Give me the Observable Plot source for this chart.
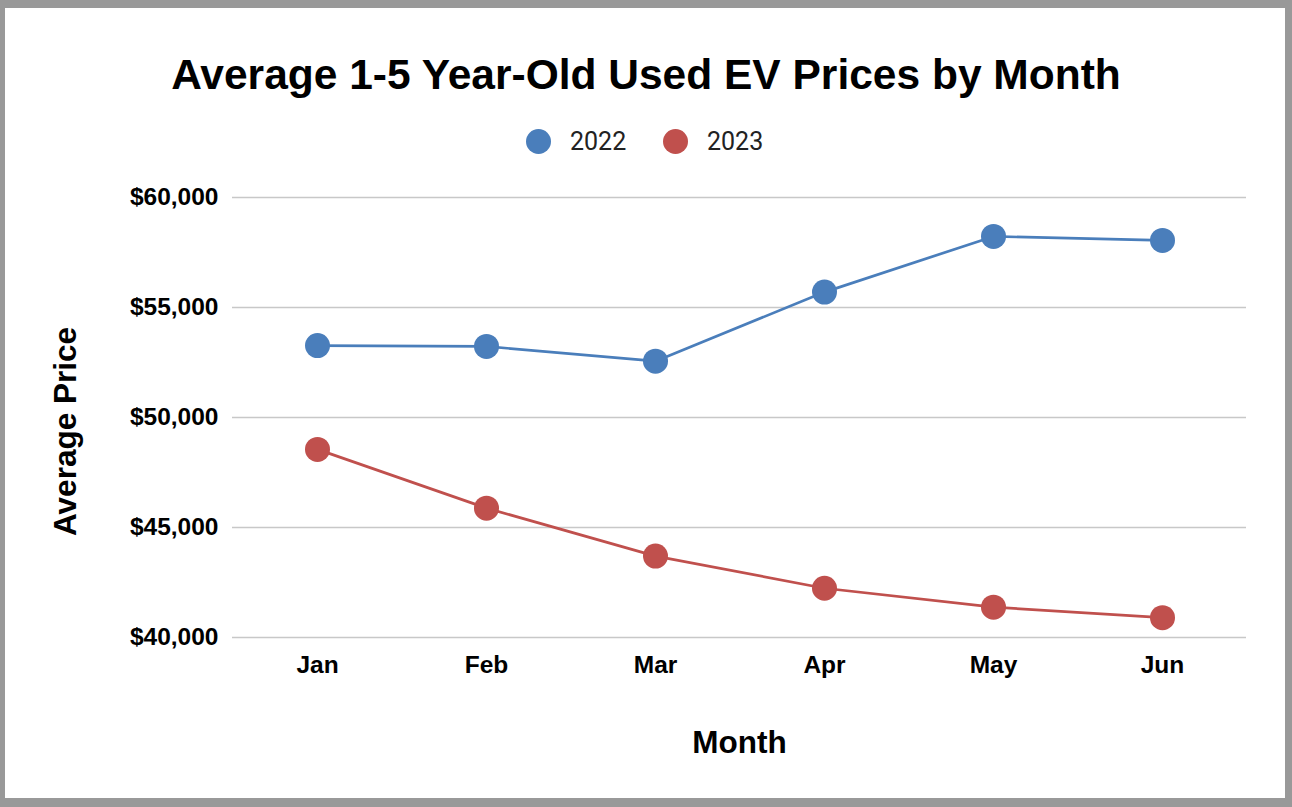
<!DOCTYPE html>
<html>
<head>
<meta charset="utf-8">
<script src="https://cdn.jsdelivr.net/npm/d3@7"></script>
<script src="https://cdn.jsdelivr.net/npm/@observablehq/plot@0.6"></script>
<style>
  html, body { margin: 0; padding: 0; background: #fff; }
  #page {
    position: relative; width: 1292px; height: 807px; box-sizing: border-box;
    border-style: solid; border-color: #999999;
    border-width: 8px 7px 9px 5px; background: #fff; overflow: hidden;
  }
  #title {
    position: absolute; left: -5px; top: 46px; width: 1292px; text-align: center;
    font-family: "Liberation Sans", Arial, sans-serif; font-weight: bold; font-size: 42.5px; color: #000;
    line-height: 1;
  }
  #legend {
    position: absolute; left: 0; top: 0; width: 100%; height: 0;
    font-family: Roboto, sans-serif; font-size: 25px; color: #222;
  }
  .lg { position: absolute; display: flex; align-items: center; height: 30px; }
  .sw { width: 25px; height: 25px; border-radius: 50%; margin-right: 19px; }
  #chart { position: absolute; left: -5px; top: -8px; width: 1292px; height: 807px; }
  #chart svg { max-width: none; }
</style>
</head>
<body>
<div id="page">
  <div id="title">Average 1-5 Year-Old Used EV Prices by Month</div>
  <div id="legend"></div>
  <div id="chart"></div>
</div>
<script>
const months = ["Jan", "Feb", "Mar", "Apr", "May", "Jun"];
const series = ["2022", "2023"];
const prices2022 = [53270, 53230, 52560, 55700, 58230, 58050];
const prices2023 = [48550, 45880, 43700, 42240, 41380, 40900];
const colors = ["#4a7ebb", "#c0504d"];
const yTicks = [40000, 45000, 50000, 55000, 60000];

const data = [];
months.forEach((m, i) => {
  data.push({month: m, year: series[0], price: prices2022[i]});
  data.push({month: m, year: series[1], price: prices2023[i]});
});

// legend
const legend = document.getElementById("legend");
const legendPos = [{x: 526, y: 126}, {x: 663, y: 126}];
series.forEach((s, i) => {
  const d = document.createElement("div");
  d.className = "lg";
  d.style.left = (legendPos[i].x - 5) + "px";
  d.style.top = (legendPos[i].y - 8) + "px";
  d.innerHTML = `<span class="sw" style="background:${colors[i]}"></span><span>${s}</span>`;
  legend.appendChild(d);
});

const fmt = d3.format("$,");

const chart = Plot.plot({
  width: 1292,
  height: 807,
  marginLeft: 232,
  marginRight: 46,
  marginTop: 197,
  marginBottom: 170,
  style: {background: "transparent", fontFamily: "'Liberation Sans', Arial, sans-serif", fontWeight: "bold", fontSize: "25px", color: "#000", maxWidth: "none"},
  x: {type: "point", domain: months, padding: 0.5, label: null},
  y: {domain: [40000, 60000], label: null},
  color: {domain: series, range: colors},
  marks: [
    Plot.gridY(yTicks, {stroke: "#c8c8c8", strokeOpacity: 1, strokeWidth: 1.5}),
    Plot.axisY(yTicks, {tickSize: 0, tickPadding: 14, tickFormat: fmt, fontSize: 24.5, fill: "#000"}),
    Plot.axisX(months, {tickSize: 0, tickPadding: 18, fontSize: 24.5, fill: "#000"}),
    Plot.text(["Average Price"], {frameAnchor: "left", textAnchor: "middle", dx: -167, dy: 14, rotate: -90, fontSize: 31.5, fill: "#000"}),
    Plot.text(["Month"], {frameAnchor: "bottom", textAnchor: "middle", dy: 115, fontSize: 31.5, fill: "#000"}),
    Plot.line(data, {x: "month", y: "price", z: "year", stroke: "year", strokeWidth: 2.7}),
    Plot.dot(data, {x: "month", y: "price", fill: "year", r: 12.5, stroke: "none"})
  ]
});
document.getElementById("chart").appendChild(chart);
</script>
</body>
</html>
